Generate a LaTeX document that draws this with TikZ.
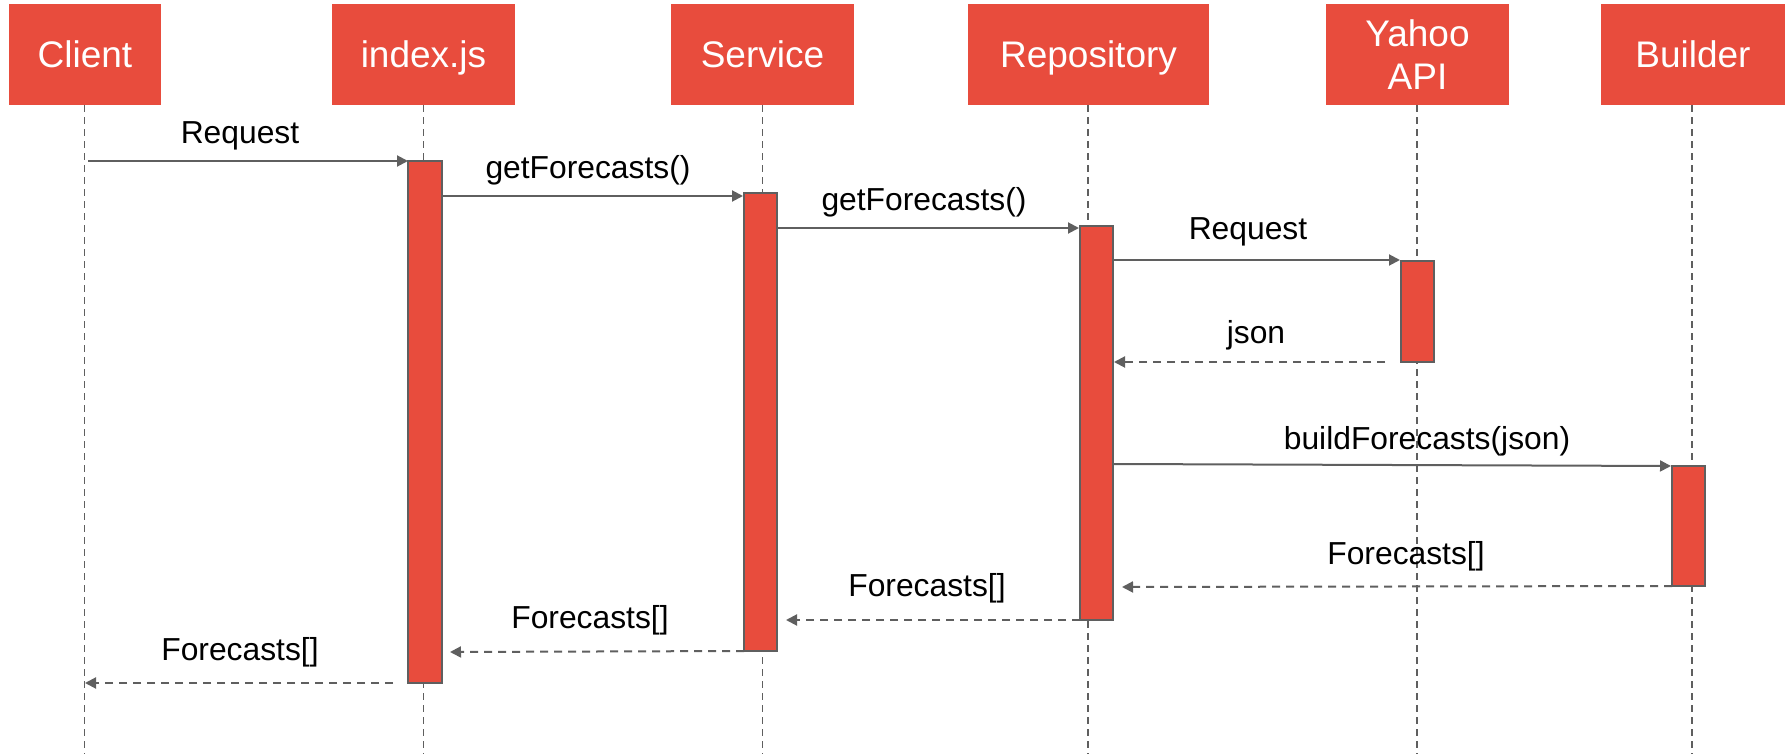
\documentclass[tikz,border=0pt]{standalone}
\usepackage{fontspec}
\setmainfont{Liberation Sans}
\usetikzlibrary{arrows.meta}
\definecolor{hdr}{HTML}{E84C3D}
\definecolor{ln}{HTML}{5F5F5F}
\begin{document}
\begin{tikzpicture}[x=0.5pt,y=-0.5pt,
  actor/.style={fill=hdr, text=white, font=\fontsize{18.5}{21.5}\selectfont, inner sep=0pt, align=center, minimum height=50.5pt},
  oneline/.style={text height=13.3pt, text depth=0pt},
  act/.style={draw=ln, fill=hdr, line width=0.9pt, inner sep=0pt, minimum width=16.5pt},
  life/.style={draw=ln, line width=0.75pt, dash pattern=on 3.5pt off 2.5pt},
  msg/.style={draw=ln, line width=1pt, -{Triangle[length=5.5pt,width=5.5pt]}},
  ret/.style={msg, dash pattern=on 4pt off 3pt},
  lbl/.style={font=\fontsize{15.9}{19}\selectfont, inner sep=0pt}
]
\useasboundingbox (0,0) rectangle (1785,754);

% actors
\node[actor, oneline, minimum width=76pt]   (client) at (85,54.5)     {Client};
\node[actor, oneline, minimum width=91.5pt] (index)  at (423.5,54.5)  {index.js};
\node[actor, oneline, minimum width=91.5pt] (serv)   at (762.5,54.5)  {Service};
\node[actor, oneline, minimum width=120.5pt](repo)   at (1088.5,54.5) {Repository};
\node[actor, minimum width=91.5pt] (yahoo)  at (1417.5,54.5) {Yahoo\\API};
\node[actor, oneline, minimum width=92pt]   (build)  at (1693,54.5)   {Builder};

% lifeline ends
\coordinate (clientE) at (84.5,754);
\coordinate (indexE)  at (423.5,754);
\coordinate (servE)   at (762.5,754);
\coordinate (repoE)   at (1088,754);
\coordinate (yahooE)  at (1417,754);
\coordinate (buildE)  at (1692,754);

\draw[life] (client.south -| clientE) -- (clientE);
\draw[life] (index.south) -- (indexE);
\draw[life] (serv.south) -- (servE);
\draw[life] (repo.south -| repoE) -- (repoE);
\draw[life] (yahoo.south -| yahooE) -- (yahooE);
\draw[life] (build.south -| buildE) -- (buildE);

% activations
\node[act, minimum width=17pt, minimum height=261pt] (iact) at (425,422) {};
\node[act, minimum height=229pt] (sact) at (760.5,422) {};
\node[act, minimum height=197pt] (ract) at (1096.5,423) {};
\node[act, minimum height=50.5pt] (yact) at (1417.5,311.5) {};
\node[act, minimum height=60pt] (bact) at (1688.5,526) {};

% message end points
\coordinate (m1s) at (88,161);
\coordinate (m1e) at (408,161);
\coordinate (m2s) at (442,196);
\coordinate (m2e) at (743,196);
\coordinate (m3s) at (777,228);
\coordinate (m3e) at (1079,228);
\coordinate (m4s) at (1113,260);
\coordinate (m4e) at (1400,260);
\coordinate (m5s) at (1385,362);
\coordinate (m5e) at (1114,362);
\coordinate (m6s) at (1113,464);
\coordinate (m6e) at (1671,466);
\coordinate (m7s) at (1672,586);
\coordinate (m7e) at (1122,587);
\coordinate (m8s) at (1080,620);
\coordinate (m8e) at (786,620);
\coordinate (m9s) at (744,651);
\coordinate (m9e) at (450,652);
\coordinate (m10s) at (393,683);
\coordinate (m10e) at (85,683);

\draw[msg] (m1s) -- (m1e);
\draw[msg] (m2s) -- (m2e);
\draw[msg] (m3s) -- (m3e);
\draw[msg] (m4s) -- (m4e);
\draw[ret] (m5s) -- (m5e);
\draw[msg] (m6s) -- (m6e);
\draw[ret] (m7s) -- (m7e);
\draw[ret] (m8s) -- (m8e);
\draw[ret] (m9s) -- (m9e);
\draw[ret] (m10s) -- (m10e);

% labels
\node[lbl] (l1)  at (240,136)  {Request};
\node[lbl] (l2)  at (588,170)  {getForecasts()};
\node[lbl] (l3)  at (924,202)  {getForecasts()};
\node[lbl] (l4)  at (1248,232) {Request};
\node[lbl] (l5)  at (1256,335) {json};
\node[lbl] (l6)  at (1427,441) {buildForecasts(json)};
\node[lbl] (l7)  at (1406,556) {Forecasts[]};
\node[lbl] (l8)  at (927,588)  {Forecasts[]};
\node[lbl] (l9)  at (590,620)  {Forecasts[]};
\node[lbl] (l10) at (240,652)  {Forecasts[]};
\end{tikzpicture}
\end{document}
